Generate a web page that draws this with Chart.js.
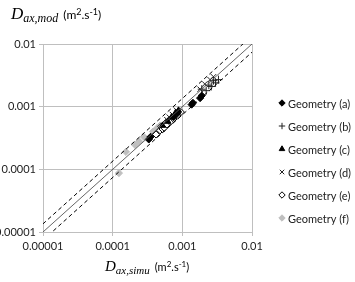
<!DOCTYPE html>
<html>
<head>
<meta charset="utf-8">
<script src="https://cdn.jsdelivr.net/npm/chart.js@4"></script>
<style>
  body { margin: 0; background: #fff; }
  #wrap { width: 355px; height: 282px; }
</style>
</head>
<body>
<div id="wrap"><canvas id="myChart" width="355" height="282"></canvas></div>
<script>
// values (simulated Dax, modelled Dax)
const geoA_x = [0.00033, 0.00035, 0.00075, 0.00085, 0.00136, 0.00142, 0.0018, 0.0019];
const geoA_y = [0.00030, 0.00033, 0.00068, 0.00078, 0.00108, 0.00115, 0.00137, 0.0015];
const geoB_x = [0.0019, 0.0022, 0.0024, 0.0026, 0.0028, 0.0030, 0.0033];
const geoB_y = [0.0019, 0.0018, 0.0022, 0.0021, 0.0026, 0.0024, 0.0027];
const geoC_x = [0.00052, 0.00062, 0.0007, 0.0008, 0.00088];
const geoC_y = [0.0005, 0.00058, 0.00068, 0.0008, 0.00087];
const geoD_x = [0.0006, 0.00065, 0.00072, 0.00082, 0.0018, 0.0021, 0.0025, 0.0028];
const geoD_y = [0.00062, 0.00068, 0.00075, 0.00088, 0.0019, 0.0023, 0.0027, 0.003];
const geoE_x = [0.00042, 0.00048, 0.0005, 0.00052, 0.00055, 0.00058, 0.0006, 0.00064, 0.00068, 0.00075, 0.00085, 0.00095];
const geoE_y = [0.00036, 0.00042, 0.00048, 0.00044, 0.00046, 0.00055, 0.00052, 0.0006, 0.00058, 0.00064, 0.00072, 0.00082];
const geoF_x = [0.000123, 0.000155, 0.00021, 0.00024, 0.00028, 0.00038, 0.00043, 0.00045, 0.00048, 0.00053, 0.00058];
const geoF_y = [0.000087, 0.00019, 0.000245, 0.00028, 0.00033, 0.0004, 0.00045, 0.00041, 0.0005, 0.00047, 0.00055];
const tickValues = [0.00001, 0.0001, 0.001, 0.01];
const tickLabels = ['0.00001', '0.0001', '0.001', '0.01'];
const lineRange = [0.000005, 0.02];
const dashFactor = 1.35;

function pts(xs, ys) {
    var out = []
    for (let i = 0; i < xs.length; i++) {
        out.push({x: xs[i], y: ys[i]})
    }
    return out
}

function guide(f) {
    return lineRange.map(v => ({x: v, y: v * f}))
}

const series = [
    {label: 'Geometry (a)', data: pts(geoA_x, geoA_y), pointStyle: 'rectRot', backgroundColor: '#000', borderColor: '#000', pointRadius: 3.6},
    {label: 'Geometry (b)', data: pts(geoB_x, geoB_y), pointStyle: 'cross', backgroundColor: '#000', borderColor: '#222', pointRadius: 4},
    {label: 'Geometry (c)', data: pts(geoC_x, geoC_y), pointStyle: 'triangle', backgroundColor: '#000', borderColor: '#000', pointRadius: 3.6},
    {label: 'Geometry (d)', data: pts(geoD_x, geoD_y), pointStyle: 'crossRot', backgroundColor: '#000', borderColor: '#222', pointRadius: 3.8},
    {label: 'Geometry (e)', data: pts(geoE_x, geoE_y), pointStyle: 'rectRot', backgroundColor: '#fff', borderColor: '#000', pointRadius: 3.6},
    {label: 'Geometry (f)', data: pts(geoF_x, geoF_y), pointStyle: 'rectRot', backgroundColor: '#bfbfbf', borderColor: '#bfbfbf', pointRadius: 3.6}
]

const lineSets = [
    {data: guide(1), borderColor: '#555', borderWidth: 0.9, borderDash: []},
    {data: guide(dashFactor), borderColor: '#000', borderWidth: 1, borderDash: [4, 3]},
    {data: guide(1 / dashFactor), borderColor: '#000', borderWidth: 1, borderDash: [4, 3]}
]

const datasets = []
lineSets.forEach(l => datasets.push({
    type: 'line', data: l.data, borderColor: l.borderColor, borderWidth: l.borderWidth,
    borderDash: l.borderDash, pointRadius: 0, fill: false
}))
series.forEach(s => datasets.push({
    type: 'scatter', label: s.label, data: s.data, pointStyle: s.pointStyle,
    backgroundColor: s.backgroundColor, borderColor: s.borderColor, borderWidth: 1,
    pointRadius: s.pointRadius
}))

// axis titles + legend, drawn on the canvas
const extras = {
    id: 'extras',
    afterDraw(chart) {
        const ctx = chart.ctx
        ctx.save()
        ctx.fillStyle = '#000'
        ctx.textBaseline = 'alphabetic'
        ctx.textAlign = 'left'

        function title(x, y, dSize, sub, unitSize) {
            ctx.font = 'italic ' + dSize + 'px "Liberation Serif"'
            ctx.fillText('D', x, y)
            let w = ctx.measureText('D').width
            ctx.font = 'italic ' + Math.round(dSize * 0.7) + 'px "Liberation Serif"'
            ctx.fillText(sub, x + w, y + 3)
            w += ctx.measureText(sub).width + 5
            const parts = [['(m', 0], ['2', 1], ['.s', 0], ['-1', 1], [')', 0]]
            parts.forEach(p => {
                ctx.font = (p[1] ? unitSize - 3 : unitSize) + 'px Lato'
                ctx.fillText(p[0], x + w, p[1] ? y - 4 : y)
                w += ctx.measureText(p[0]).width
            })
        }
        title(11, 19, 17, 'ax,mod', 12)
        title(105, 271, 15, 'ax,simu', 11)

        // legend
        const legendY = [103, 126, 149, 172, 195, 218]
        series.forEach((s, i) => {
            const y = legendY[i]
            ctx.fillStyle = s.backgroundColor
            ctx.strokeStyle = s.borderColor
            ctx.lineWidth = 1
            Chart.helpers.drawPoint(ctx, {pointStyle: s.pointStyle, radius: 3.2, borderWidth: 1}, 282, y)
            ctx.fillStyle = '#222'
            ctx.font = '11px Lato'
            ctx.textBaseline = 'middle'
            ctx.fillText(s.label, 288, y + 1)
        })
        ctx.restore()
    }
}

const decadeTicks = function(scale) {
    scale.ticks = tickValues.map(v => ({value: v}))
}

new Chart(document.getElementById('myChart').getContext('2d'), {
    type: 'scatter',
    data: {datasets: datasets},
    options: {
        responsive: false,
        animation: false,
        layout: {padding: {left: 0, right: 103, top: 44, bottom: 0}},
        plugins: {legend: {display: false}, tooltip: {enabled: false}},
        scales: {
            x: {
                type: 'logarithmic', min: 0.00001, max: 0.01,
                afterBuildTicks: decadeTicks,
                afterFit: s => { s.height = 50 },
                grid: {color: '#bfbfbf', lineWidth: 1, drawTicks: true, tickLength: 4},
                border: {color: '#bfbfbf'},
                ticks: {
                    color: '#222', font: {family: 'Lato', size: 11}, maxRotation: 0, padding: 4,
                    callback: v => tickLabels[tickValues.indexOf(v)] ?? ''
                }
            },
            y: {
                type: 'logarithmic', min: 0.00001, max: 0.01,
                afterBuildTicks: decadeTicks,
                afterFit: s => { s.width = 43 },
                grid: {color: '#bfbfbf', lineWidth: 1, drawTicks: true, tickLength: 4},
                border: {color: '#bfbfbf'},
                ticks: {
                    color: '#222', font: {family: 'Lato', size: 11}, padding: 3,
                    callback: v => tickLabels[tickValues.indexOf(v)] ?? ''
                }
            }
        }
    },
    plugins: [extras]
});
</script>
</body>
</html>
